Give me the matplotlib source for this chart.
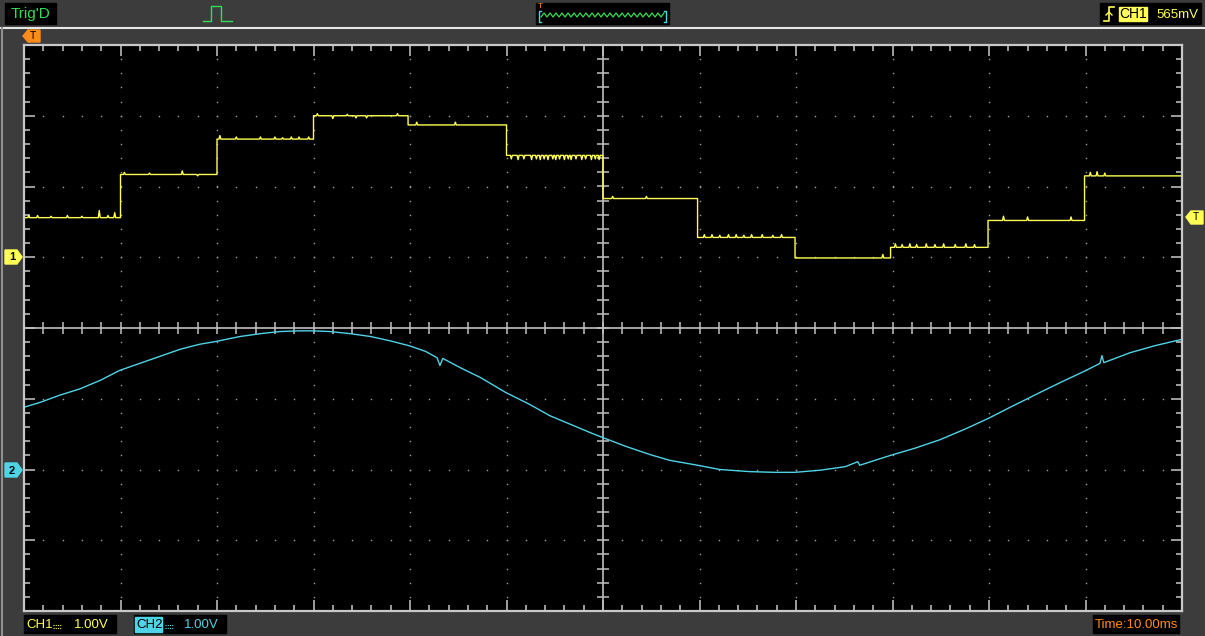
import numpy as np
import matplotlib
matplotlib.use("Agg")
from matplotlib import pyplot as plt
from matplotlib.patches import Rectangle, Polygon

plt.rcParams['font.family'] = ['Liberation Sans', 'DejaVu Sans']

# CH1: stepped signal (time in ms, volts), 10 ms/div, 1 V/div
ch1_edges = [-60, -50, -40, -30, -20.2, -10, 0, 9.8, 19.9, 29.8, 39.9, 49.9, 60]
ch1_levels = [0.56, 1.17, 1.67, 2.00, 1.87, 1.44, 0.83, 0.28, -0.01, 0.14, 0.52, 1.15]
ch1_end = 1.58
# glitches (time ms, offset V)
glitch_t = [-59.5, -58.6, -57.2, -55.5, -54.0, -52.2, -51.3, -50.6,
            -49.6, -47.0, -43.6, -42.0,
            -39.7, -38.0, -35.5, -34.0, -33.2, -32.3, -31.5, -30.5,
            -29.6, -28.0, -26.5, -25.6, -24.5, -21.3,
            -19.3, -15.3,
            -9.5, -8.8, -8.2, -7.4, -6.9, -6.5, -6.1, -5.7, -5.2, -4.9, -4.5,
            -4.0, -3.6, -3.3, -2.8, -2.2, -1.8, -1.2, -0.8, -0.4,
            1.0, 4.5,
            10.5, 11.3, 12.1, 13.0, 13.8, 14.6, 15.4, 16.5, 17.6, 18.5,
            29.0,
            30.3, 31.0, 31.8, 32.5, 33.5, 34.4, 35.3, 36.5, 37.6, 38.5,
            41.5, 44.0, 48.5,
            50.5, 51.2, 52.0]
glitch_dv = [0.03, 0.03, 0.02, 0.03, 0.02, 0.10, 0.03, 0.07,
             0.03, 0.02, 0.05, -0.02,
             0.05, 0.03, 0.03, 0.03, 0.02, 0.03, 0.03, 0.03,
             0.03, -0.04, 0.02, -0.03, -0.03, 0.03,
             0.04, 0.04,
             -0.05, -0.06, -0.05, -0.06, -0.05, -0.06, -0.05, -0.06, -0.05, -0.06, -0.05,
             -0.06, -0.05, -0.06, -0.05, -0.06, -0.05, -0.06, -0.05, -0.06,
             0.03, 0.03,
             0.04, 0.04, 0.03, 0.04, 0.04, 0.03, 0.04, 0.04, 0.03, 0.04,
             0.05,
             0.05, 0.04, 0.05, 0.04, 0.05, 0.04, 0.05, 0.04, 0.05, 0.04,
             0.06, 0.05, 0.05,
             0.05, 0.06, 0.04]

# CH2: sine-like trace (time ms, volts)
ch2_t = [-60.0, -58.3, -56.3, -54.2, -52.1, -50.1, -48.0, -45.9, -43.8, -41.8, -40.1,
         -37.6, -35.5, -33.5, -31.4, -30.1, -28.3, -26.2, -24.1, -22.1, -20.1, -18.4,
         -17.2, -16.9, -16.6, -14.8, -12.7, -10.1, -7.6, -5.5, -3.4, -1.3, 0.0,
         2.3, 4.9, 6.9, 9.8, 12.1, 15.2, 17.8, 19.9, 22.5, 25.1, 26.4, 26.6,
         29.8, 32.3, 34.9, 37.5, 39.9, 42.2, 45.3, 47.4, 49.9, 51.5, 51.7, 51.9,
         54.6, 57.2, 60.0]
ch2_v = [0.88, 0.95, 1.05, 1.14, 1.26, 1.40, 1.50, 1.60, 1.70, 1.77, 1.81,
         1.88, 1.92, 1.95, 1.96, 1.96, 1.95, 1.92, 1.88, 1.82, 1.75, 1.67,
         1.58, 1.47, 1.57, 1.44, 1.30, 1.09, 0.92, 0.76, 0.64, 0.52, 0.45,
         0.33, 0.21, 0.13, 0.06, 0.00, -0.03, -0.04, -0.04, -0.01, 0.04, 0.11, 0.06,
         0.20, 0.30, 0.42, 0.57, 0.72, 0.88, 1.09, 1.23, 1.39, 1.50, 1.61, 1.51,
         1.65, 1.75, 1.84]

ch1_offset = 1.0   # divisions above centre
ch2_offset = -2.0

W, H = 1205, 636
BG = '#3c3c3c'
YEL = '#ffff55'
CYA = '#4fd3e6'
ORG = '#ff8c1a'
GRN = '#33dd55'

fig = plt.figure(figsize=(W / 100, H / 100), dpi=100, facecolor=BG)
ax = fig.add_axes([24 / W, (H - 611) / H, 1158 / W, 566 / H], facecolor='black')
ax.set_xlim(-60, 60)
ax.set_ylim(-4, 4)

# dotted grid: dots at every minor step
minor_x = np.arange(-60, 60.01, 2)
minor_y = np.arange(-4, 4.01, 0.2)
for gx in range(-50, 60, 10):
    if gx != 0:
        ax.plot(np.full_like(minor_y, gx), minor_y, ls='none', marker='s', ms=1.0,
                mew=0, color='#a0a0a0')
for gy in range(-3, 4):
    if gy != 0:
        ax.plot(minor_x, np.full_like(minor_x, gy), ls='none', marker='s', ms=1.0,
                mew=0, color='#a0a0a0')

# centre cross with tick marks
ax.axhline(0, color='#c0c0c0', lw=1.2)
ax.axvline(0, color='#c0c0c0', lw=1.2)
ax.plot(minor_x, np.zeros_like(minor_x), ls='none', marker='|', ms=8, mew=1.1, color='#c0c0c0')
ax.plot(np.zeros_like(minor_y), minor_y, ls='none', marker='_', ms=8, mew=1.1, color='#c0c0c0')

# border ticks
ax.set_xticks(np.arange(-60, 61, 10))
ax.set_xticks(minor_x, minor=True)
ax.set_yticks(np.arange(-4, 5, 1))
ax.set_yticks(minor_y, minor=True)
ax.tick_params(which='both', direction='in', top=True, right=True, bottom=True, left=True,
               labelbottom=False, labelleft=False, color='#c8c8c8', width=1.1)
ax.tick_params(which='major', length=8)
ax.tick_params(which='minor', length=4)
for s in ax.spines.values():
    s.set_color('#c8c8c8')
    s.set_linewidth(1.6)

# CH1 step path with glitches
xs, ys = [], []
for i, lv in enumerate(ch1_levels):
    t0, t1 = ch1_edges[i], ch1_edges[i + 1]
    xs.append(t0); ys.append(lv)
    for gt, gd in zip(glitch_t, glitch_dv):
        if t0 < gt < t1:
            xs += [gt - 0.1, gt, gt + 0.1]
            ys += [lv, lv + gd, lv]
    xs.append(t1); ys.append(lv)
xs.append(ch1_edges[-1]); ys.append(ch1_end)
ax.plot(xs, np.array(ys) + ch1_offset, color=YEL, lw=1.0)
ax.plot(ch2_t, np.array(ch2_v) + ch2_offset, color=CYA, lw=1.0)

# overlay in pixel coordinates for the scope chrome
ov = fig.add_axes([0, 0, 1, 1], zorder=3)
ov.set_xlim(0, W)
ov.set_ylim(H, 0)
ov.axis('off')
ov.patch.set_visible(False)

ov.plot([0, W], [28, 28], color='#e8e8e8', lw=1.5)
ov.plot([2, 2], [28, H], color='#909090', lw=1.5)

# top bar
ov.add_patch(Rectangle((5, 3), 51, 21, color='black'))
ov.text(11, 14, "Trig'D", color=GRN, fontsize=11, va='center', ha='left')
ov.plot([203, 211, 211, 221, 221, 232], [21, 21, 6, 6, 21, 21], color=GRN, lw=1)

ov.add_patch(Rectangle((536, 3), 133, 21, color='black'))
zx = np.arange(541, 666, 3)
zy = np.where(np.arange(len(zx)) % 2 == 0, 17, 13)
ov.plot(zx, zy, color=GRN, lw=0.9)
ov.plot([541, 539, 539, 541], [11, 11, 22, 22], color=CYA, lw=1)
ov.plot([664, 666, 666, 664], [11, 11, 22, 22], color=CYA, lw=1)
ov.text(540, 6, 'T', color=ORG, fontsize=6, ha='center', va='center')

ov.add_patch(Rectangle((1100, 3), 101, 21, color='black'))
ov.plot([1104, 1109, 1109, 1114], [21, 21, 7, 7], color=YEL, lw=1.2)
ov.plot([1106, 1109, 1112], [15, 12, 15], color=YEL, lw=1)
ov.add_patch(Rectangle((1119, 7), 28, 14, color=YEL))
ov.text(1133, 14.5, 'CH1', color='black', fontsize=10, ha='center', va='center')
ov.text(1156, 14.5, '565mV', color=YEL, fontsize=9.5, ha='left', va='center')

# markers
ov.add_patch(Polygon([[23, 36], [28, 30], [40, 30], [40, 42], [28, 42]], color=ORG))
ov.text(33, 36, 'T', color='black', fontsize=7.5, ha='center', va='center')
ov.add_patch(Polygon([[5, 250], [17, 250], [22, 257], [17, 264], [5, 264]], color=YEL))
ov.text(12, 257.5, '1', color='black', fontsize=8, ha='center', va='center', fontweight='bold')
ov.add_patch(Polygon([[5, 463], [17, 463], [22, 470], [17, 477], [5, 477]], color=CYA))
ov.text(12, 470.5, '2', color='black', fontsize=8, ha='center', va='center', fontweight='bold')
ov.add_patch(Polygon([[1186, 217], [1191, 211], [1203, 211], [1203, 224], [1191, 224]], color=YEL))
ov.text(1196, 217.5, 'T', color='black', fontsize=7.5, ha='center', va='center')

# bottom bar
ov.add_patch(Rectangle((24, 615), 92, 18, color='black'))
ov.text(26, 624.5, 'CH1', color=YEL, fontsize=9.5, ha='left', va='center')
ov.plot([53, 61], [628, 628], color=YEL, lw=0.8, ls=(0, (1, 1)))
ov.plot([53, 61], [625, 625], color=YEL, lw=0.8, ls=(0, (1, 1)))
ov.text(74, 624.5, '1.00V', color=YEL, fontsize=9.5, ha='left', va='center')
ov.add_patch(Rectangle((134, 615), 92, 18, color='black'))
ov.add_patch(Rectangle((135, 617), 27, 15, color=CYA))
ov.text(136, 624.5, 'CH2', color='black', fontsize=9.5, ha='left', va='center')
ov.plot([165, 173], [628, 628], color=CYA, lw=0.8, ls=(0, (1, 1)))
ov.plot([165, 173], [625, 625], color=CYA, lw=0.8, ls=(0, (1, 1)))
ov.text(184, 624.5, '1.00V', color=CYA, fontsize=9.5, ha='left', va='center')
ov.add_patch(Rectangle((1093, 615), 86, 18, color='black'))
ov.text(1136, 624.5, 'Time:10.00ms', color=ORG, fontsize=9.5, ha='center', va='center')

fig.savefig('out.png', dpi=100, facecolor=BG)
